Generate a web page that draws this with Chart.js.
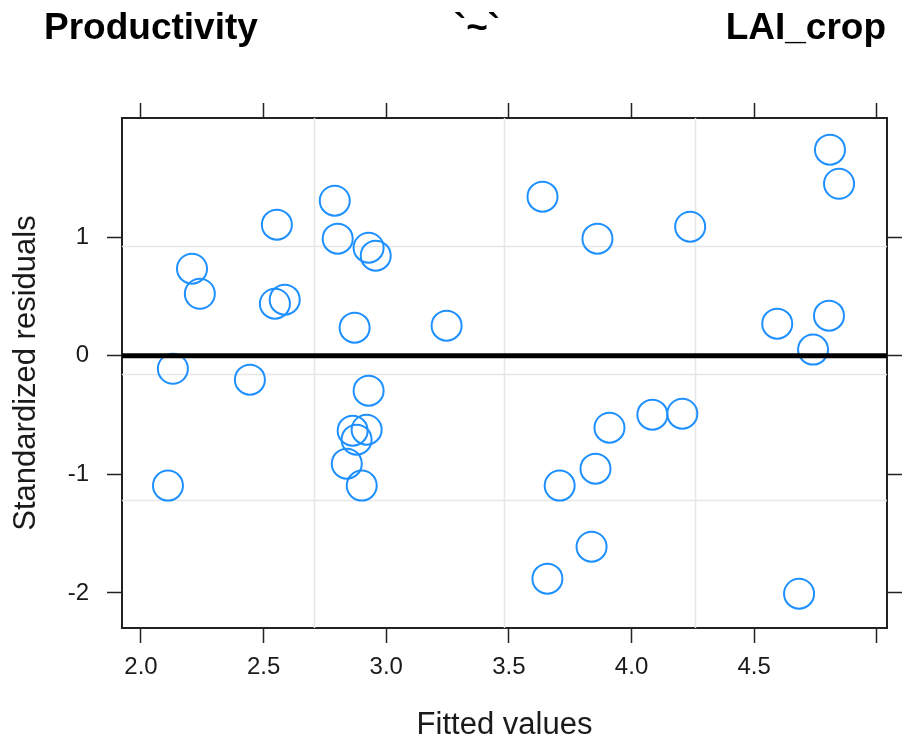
<!DOCTYPE html>
<html>
<head>
<meta charset="utf-8">
<script src="https://cdn.jsdelivr.net/npm/chart.js@4.4.1/dist/chart.umd.min.js"></script>
<style>
  html, body { margin: 0; padding: 0; background: #fff; }
  #wrap { width: 904px; height: 744px; }
</style>
</head>
<body>
<div id="wrap"><canvas id="residChart" width="904" height="744"></canvas></div>
<script>
// data
const fittedValues = [2.110, 2.130, 2.208, 2.240, 2.444, 2.546, 2.554, 2.586, 2.790, 2.802,
    2.928, 2.957, 2.871, 2.928, 2.863, 2.920, 2.879, 2.839, 2.900, 3.246,
    3.637, 3.861, 4.239, 4.809, 4.846, 4.594, 4.805, 4.740, 3.910, 4.085,
    4.207, 3.853, 3.707, 3.837, 3.657, 4.683];
const stdResiduals = [-1.095, -0.110, 0.733, 0.522, -0.202, 0.438, 1.104, 0.472, 1.306, 0.986,
    0.910, 0.843, 0.236, -0.295, -0.632, -0.624, -0.708, -0.910, -1.095, 0.253,
    1.340, 0.986, 1.087, 1.736, 1.449, 0.270, 0.337, 0.051, -0.607, -0.497,
    -0.489, -0.952, -1.095, -1.610, -1.879, -2.006];

const xTicks = [2.0, 2.5, 3.0, 3.5, 4.0, 4.5, 5.0];
const xTickLabels = ['2.0', '2.5', '3.0', '3.5', '4.0', '4.5', ''];
const yTicks = [-2, -1, 0, 1];
const yTickLabels = ['-2', '-1', '0', '1'];

// light reference grid (not on the tick positions)
const gridX = [2.704, 3.478, 4.260];
const gridY = [0.927, -0.152, -1.213];

const titleParts = ['Productivity', '`~`', 'LAI_crop'];

const FONT = '"Liberation Sans", Arial, sans-serif';
const AXIS = '#222222';

function fixTicks(values) {
    return function(scale) {
        scale.ticks = values.map(v => ({ value: v }));
    };
}

const refLines = {
    id: 'refLines',
    beforeDatasetsDraw(chart) {
        const { ctx, chartArea: a, scales: { x, y } } = chart;
        ctx.save();
        ctx.strokeStyle = '#e6e6e6';
        ctx.lineWidth = 1.5;
        gridX.forEach(v => {
            const px = Math.round(x.getPixelForValue(v)) + 0.5;
            ctx.beginPath(); ctx.moveTo(px, a.top); ctx.lineTo(px, a.bottom); ctx.stroke();
        });
        gridY.forEach(v => {
            const py = Math.round(y.getPixelForValue(v)) + 0.5;
            ctx.beginPath(); ctx.moveTo(a.left, py); ctx.lineTo(a.right, py); ctx.stroke();
        });
        ctx.restore();
    },
    afterDatasetsDraw(chart) {
        // zero line
        const { ctx, chartArea: a, scales: { y } } = chart;
        const py = y.getPixelForValue(0);
        ctx.save();
        ctx.strokeStyle = '#000';
        ctx.lineWidth = 5;
        ctx.beginPath(); ctx.moveTo(a.left, py); ctx.lineTo(a.right, py); ctx.stroke();
        ctx.restore();
    },
    afterDraw(chart) {
        const ctx = chart.ctx;
        ctx.save();
        ctx.fillStyle = '#000';
        ctx.font = 'bold 37px ' + FONT;
        ctx.textBaseline = 'alphabetic';
        ctx.textAlign = 'left';
        ctx.fillText(titleParts[0], 44, 39);
        ctx.textAlign = 'center';
        ctx.fillText(titleParts[1], 477, 39);
        ctx.textAlign = 'right';
        ctx.fillText(titleParts[2], 886, 39);
        ctx.restore();
    }
};

const tickGrid = {
    drawOnChartArea: false,
    drawTicks: true,
    tickLength: 15,
    tickWidth: 1.5,
    color: AXIS
};
const axisBorder = { display: true, color: AXIS, width: 2 };

new Chart(document.getElementById('residChart').getContext('2d'), {
    type: 'scatter',
    data: {
        datasets: [{
            label: 'residuals',
            data: fittedValues.map((v, i) => ({ x: v, y: stdResiduals[i] })),
            pointStyle: 'circle',
            pointRadius: 15,
            pointHoverRadius: 15,
            pointBorderWidth: 2,
            borderColor: '#1e90ff',
            backgroundColor: 'rgba(0,0,0,0)'
        }]
    },
    options: {
        responsive: false,
        animation: false,
        events: [],
        layout: { padding: 0 },
        plugins: {
            legend: { display: false },
            tooltip: { enabled: false },
            title: { display: false }
        },
        scales: {
            x: {
                type: 'linear',
                position: 'bottom',
                min: 1.9226,
                max: 5.0415,
                afterBuildTicks: fixTicks(xTicks),
                afterFit(scale) { scale.height = 116; },
                grid: tickGrid,
                border: axisBorder,
                ticks: {
                    autoSkip: false,
                    maxRotation: 0,
                    padding: 10,
                    color: '#1a1a1a',
                    font: { family: FONT, size: 24 },
                    callback: (v, i) => xTickLabels[i]
                },
                title: {
                    display: true,
                    text: 'Fitted values',
                    color: '#1a1a1a',
                    font: { family: FONT, size: 31 },
                    padding: { top: 0, bottom: 0 }
                }
            },
            x2: {
                type: 'linear',
                position: 'top',
                min: 1.9226,
                max: 5.0415,
                afterBuildTicks: fixTicks(xTicks),
                afterFit(scale) { scale.height = 118; },
                grid: tickGrid,
                border: axisBorder,
                ticks: { display: false }
            },
            y: {
                type: 'linear',
                position: 'left',
                min: -2.295,
                max: 2.003,
                afterBuildTicks: fixTicks(yTicks),
                afterFit(scale) { scale.width = 122; },
                grid: tickGrid,
                border: axisBorder,
                ticks: {
                    autoSkip: false,
                    padding: 18,
                    color: '#1a1a1a',
                    font: { family: FONT, size: 24 },
                    callback: (v, i) => yTickLabels[i]
                },
                title: {
                    display: true,
                    text: 'Standardized residuals',
                    color: '#1a1a1a',
                    font: { family: FONT, size: 31 },
                    padding: { top: 8, bottom: 0 }
                }
            },
            y2: {
                type: 'linear',
                position: 'right',
                min: -2.295,
                max: 2.003,
                afterBuildTicks: fixTicks(yTicks),
                afterFit(scale) { scale.width = 16; },
                grid: tickGrid,
                border: axisBorder,
                ticks: { display: false }
            }
        }
    },
    plugins: [refLines]
});
</script>
</body>
</html>
